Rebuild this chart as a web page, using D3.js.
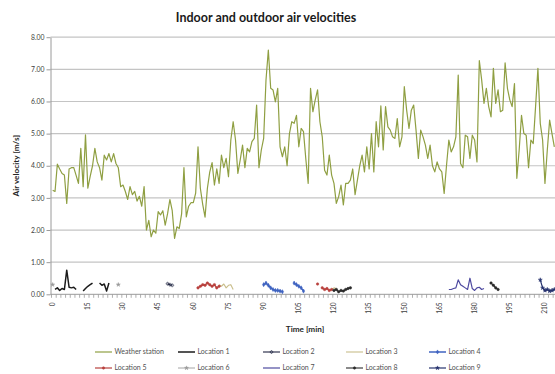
<!DOCTYPE html>
<html>
<head>
<meta charset="utf-8">
<script src="https://cdn.jsdelivr.net/npm/d3@7"></script>
<style>
  html, body { margin: 0; padding: 0; background: #fff; }
  svg { display: block; font-family: Lato, "Liberation Sans", Arial, sans-serif; }
</style>
</head>
<body>
<svg id="chart" width="555" height="374"></svg>
<script>
// Outdoor reference: weather station, one reading per minute (0..214)
const weatherStation = [
  3.24,3.2,4.05,3.9,3.76,3.71,2.83,3.9,3.94,3.94,3.7,3.45,4.54,3.35,4.96,3.3,3.67,4.0,4.54,4.12,
  3.94,3.55,4.33,4.18,4.38,4.12,4.38,4.07,3.94,3.35,3.4,3.2,2.95,3.35,3.1,3.2,2.9,3.05,2.74,3.35,
  2.0,2.3,1.79,2.0,1.9,2.57,2.47,2.6,2.15,2.5,2.95,2.6,1.74,2.1,2.05,2.5,3.94,2.41,2.74,2.85,
  2.85,3.15,4.59,3.3,2.8,2.4,3.3,3.8,4.1,3.4,3.9,3.45,4.33,3.94,4.23,3.66,4.8,5.37,4.8,3.76,
  4.18,4.64,3.94,4.54,4.43,4.75,4.85,5.89,3.94,4.49,4.85,6.67,7.6,6.41,6.36,5.99,6.41,4.59,4.28,4.59,
  4.0,5.0,5.37,5.32,5.57,4.59,5.16,5.06,4.2,3.45,6.41,5.68,6.05,6.36,5.37,4.9,3.86,3.71,4.33,3.71,
  3.45,2.83,3.04,3.4,2.78,3.45,3.45,3.55,3.9,3.1,3.55,4.0,4.33,3.81,4.59,3.9,5.0,3.81,5.37,4.59,
  5.86,4.49,5.84,5.21,5.11,4.9,4.85,5.47,4.59,4.9,6.46,5.73,5.16,5.73,5.89,5.11,4.23,5.11,4.9,4.64,
  4.23,4.64,4.0,3.81,4.12,3.9,3.81,3.14,4.0,4.8,4.43,4.59,4.9,6.82,4.07,3.94,4.95,4.9,4.23,4.95,
  4.8,4.12,7.27,6.67,5.94,6.41,5.84,5.52,7.03,5.94,6.36,5.68,5.73,7.2,6.41,6.05,5.84,6.56,3.61,4.49,
  5.57,5.0,4.95,3.94,4.8,4.69,5.84,7.03,5.32,4.8,3.45,4.49,5.42,5.0,4.59
];

// Indoor locations: [minute, velocity]; null velocity marks a break in the series
const location1 = [[1,0.15],[2,0.2],[3,0.12],[4,0.18],[5,0.15],[6,0.75],[7,0.22],[8,0.2],[9,0.22],[10,0.15],[11,null],
                   [13,0.1],[14,0.18],[15,0.25],[16,0.3],[17,0.35],[18,null],
                   [20,0.35],[21,0.28],[22,0.32],[23,0.1],[24,0.35]];
const location2 = [[49,0.33],[50,0.3],[51,0.28]];
const location3 = [[71,0.3],[72,0.25],[73,0.32],[74,0.2],[75,0.28],[76,0.3],[77,0.15],[78,null],
                   [118,0.12],[119,0.15],[120,0.2],[121,0.18]];
const location4 = [[90,0.3],[91,0.35],[92,0.28],[93,0.2],[94,0.15],[95,0.12],[96,0.12],[97,0.1],[98,0.08],[99,null],
                   [103,0.35],[104,0.3],[105,0.25],[106,0.2],[107,0.1]];
const location5 = [[62,0.2],[63,0.25],[64,0.3],[65,0.28],[66,0.35],[67,0.3],[68,0.25],[69,0.3],[70,0.2],[71,0.25],[72,null],
                   [113,0.32],[114,null],
                   [115,0.2],[116,0.15],[117,0.18],[118,0.12],[119,0.15]];
const location6 = [[0,0.3],[1,null],[28,0.3]];
const location7 = [[169,0.15],[170,0.15],[171,0.18],[172,0.2],[173,0.45],[174,0.3],[175,0.25],[176,0.2],[177,0.15],
                   [178,0.5],[179,0.18],[180,0.12],[181,0.2],[182,0.22],[183,0.15],[184,0.18]];
const location8 = [[120,0.12],[121,0.15],[122,0.08],[123,0.12],[124,0.1],[125,0.15],[126,0.18],[127,0.2],[128,null],
                   [187,0.35],[188,0.28],[189,0.2],[190,0.15]];
const location9 = [[208,0.45],[209,0.2],[210,0.12],[211,0.15],[212,0.1],[213,0.12],[214,0.15]];

const minutes = d3.range(0, weatherStation.length);
const yTicks = [0, 1, 2, 3, 4, 5, 6, 7, 8];
const xLabelEvery = 15;

const seriesList = [
  { name: "Weather station", color: "#8f9f42", width: 1.2, symbol: null, data: weatherStation.map((v, i) => [i, v]) },
  { name: "Location 1", color: "#1b1b1b", width: 1.5, symbol: null, data: location1 },
  { name: "Location 2", color: "#1f2440", width: 1.1, symbol: d3.symbolCross, data: location2 },
  { name: "Location 3", color: "#c9bd8a", width: 1.1, symbol: null, data: location3 },
  { name: "Location 4", color: "#3f63c0", width: 1.5, symbol: d3.symbolDiamond, data: location4 },
  { name: "Location 5", color: "#b8403d", width: 1.2, symbol: d3.symbolCircle, data: location5 },
  { name: "Location 6", color: "#9a9a9a", width: 0.9, symbol: d3.symbolStar, data: location6 },
  { name: "Location 7", color: "#4e4aa0", width: 1.2, symbol: null, data: location7 },
  { name: "Location 8", color: "#2a2a2a", width: 1.1, symbol: d3.symbolCircle, data: location8 },
  { name: "Location 9", color: "#26336e", width: 1.2, symbol: d3.symbolStar, data: location9 }
];

const svg = d3.select("#chart");
const plot = { left: 51.5, right: 555.5, top: 37.2, bottom: 294.3 };

const x = d3.scaleBand().domain(minutes).range([plot.left, plot.right]);
const cx = i => x(i) + x.bandwidth() / 2;
const y = d3.scaleLinear().domain([0, 8]).range([plot.bottom, plot.top]);

// Title
svg.append("text")
  .attr("x", 266).attr("y", 22)
  .attr("text-anchor", "middle")
  .attr("font-size", 12.5).attr("font-weight", 700).attr("fill", "#1a1a1a")
  .text("Indoor and outdoor air velocities");

// Horizontal gridlines
svg.append("g").selectAll("line").data(yTicks.filter(d => d > 0)).join("line")
  .attr("x1", plot.left - 1).attr("x2", 555)
  .attr("y1", d => y(d)).attr("y2", d => y(d))
  .attr("stroke", "#c4c4c4").attr("stroke-width", 1.2);

// Y axis
const yAxis = svg.append("g").attr("transform", `translate(${plot.left - 1},0)`)
  .call(d3.axisLeft(y).tickValues(yTicks).tickFormat(d3.format(".2f")).tickSize(4).tickSizeOuter(0).tickPadding(2));
yAxis.select(".domain").attr("stroke", "#9a9a9a");
yAxis.selectAll(".tick line").attr("stroke", "#9a9a9a");
yAxis.selectAll(".tick text").attr("font-size", 6.8).attr("fill", "#404040").attr("font-family", "Lato, 'Liberation Sans', sans-serif");

// X axis line, minor ticks every 2 minutes, labels every 15 minutes
const xAxis = svg.append("g");
xAxis.append("line")
  .attr("x1", plot.left - 1).attr("x2", 555)
  .attr("y1", plot.bottom).attr("y2", plot.bottom)
  .attr("stroke", "#9a9a9a");
xAxis.selectAll("line.minor").data(minutes.filter(d => d % 2 === 0)).join("line")
  .attr("class", "minor")
  .attr("x1", d => x(d)).attr("x2", d => x(d))
  .attr("y1", plot.bottom).attr("y2", plot.bottom + 3.5)
  .attr("stroke", "#9a9a9a").attr("stroke-width", 0.8);
xAxis.selectAll("text").data(minutes.filter(d => d % xLabelEvery === 0)).join("text")
  .attr("transform", d => `translate(${cx(d)},${plot.bottom + 8}) rotate(-90)`)
  .attr("text-anchor", "end").attr("dy", "0.35em")
  .attr("font-size", 6.6).attr("fill", "#404040")
  .text(d => d);

// Axis titles
svg.append("text")
  .attr("transform", `translate(19,${(plot.top + plot.bottom) / 2}) rotate(-90)`)
  .attr("text-anchor", "middle")
  .attr("font-size", 8.2).attr("font-weight", 700).attr("fill", "#262626")
  .text("Air velocity [m/s]");
svg.append("text")
  .attr("x", 305).attr("y", 332)
  .attr("text-anchor", "middle")
  .attr("font-size", 8.2).attr("font-weight", 700).attr("fill", "#262626")
  .text("Time [min]");

// Series
const line = d3.line()
  .defined(d => d[1] != null)
  .x(d => cx(d[0]))
  .y(d => y(d[1]));

const markerSize = 5;
const seriesG = svg.append("g");
seriesList.forEach(s => {
  seriesG.append("path")
    .datum(s.data)
    .attr("fill", "none")
    .attr("stroke", s.color)
    .attr("stroke-width", s.width)
    .attr("stroke-linejoin", "round")
    .attr("d", line);
  // isolated points still show as a marker
  if (s.symbol) {
    seriesG.append("g").selectAll("path").data(s.data.filter(d => d[1] != null)).join("path")
      .attr("transform", d => `translate(${cx(d[0])},${y(d[1])})`)
      .attr("d", d3.symbol(s.symbol, markerSize))
      .attr("fill", s.symbol === d3.symbolCross ? "none" : s.color)
      .attr("stroke", s.color).attr("stroke-width", 0.5);
  }
});

// Legend: two rows of five
const legendCols = [95, 178, 263, 346, 429];
const legendRows = [352, 368];
const legend = svg.append("g");
seriesList.forEach((s, i) => {
  const lx = legendCols[i % 5];
  const ly = legendRows[Math.floor(i / 5)];
  const g = legend.append("g").attr("transform", `translate(${lx},${ly})`);
  g.append("line").attr("x1", 0).attr("x2", 17).attr("y1", 0).attr("y2", 0)
    .attr("stroke", s.color).attr("stroke-width", s.width);
  if (s.symbol) {
    g.append("path").attr("transform", "translate(8.5,0)")
      .attr("d", d3.symbol(s.symbol, markerSize))
      .attr("fill", s.symbol === d3.symbolCross ? "none" : s.color)
      .attr("stroke", s.color).attr("stroke-width", 0.5);
  }
  g.append("text").attr("x", 19.5).attr("y", 0).attr("dy", "0.35em")
    .attr("font-size", 7).attr("fill", "#505050")
    .text(s.name);
});
</script>
</body>
</html>
